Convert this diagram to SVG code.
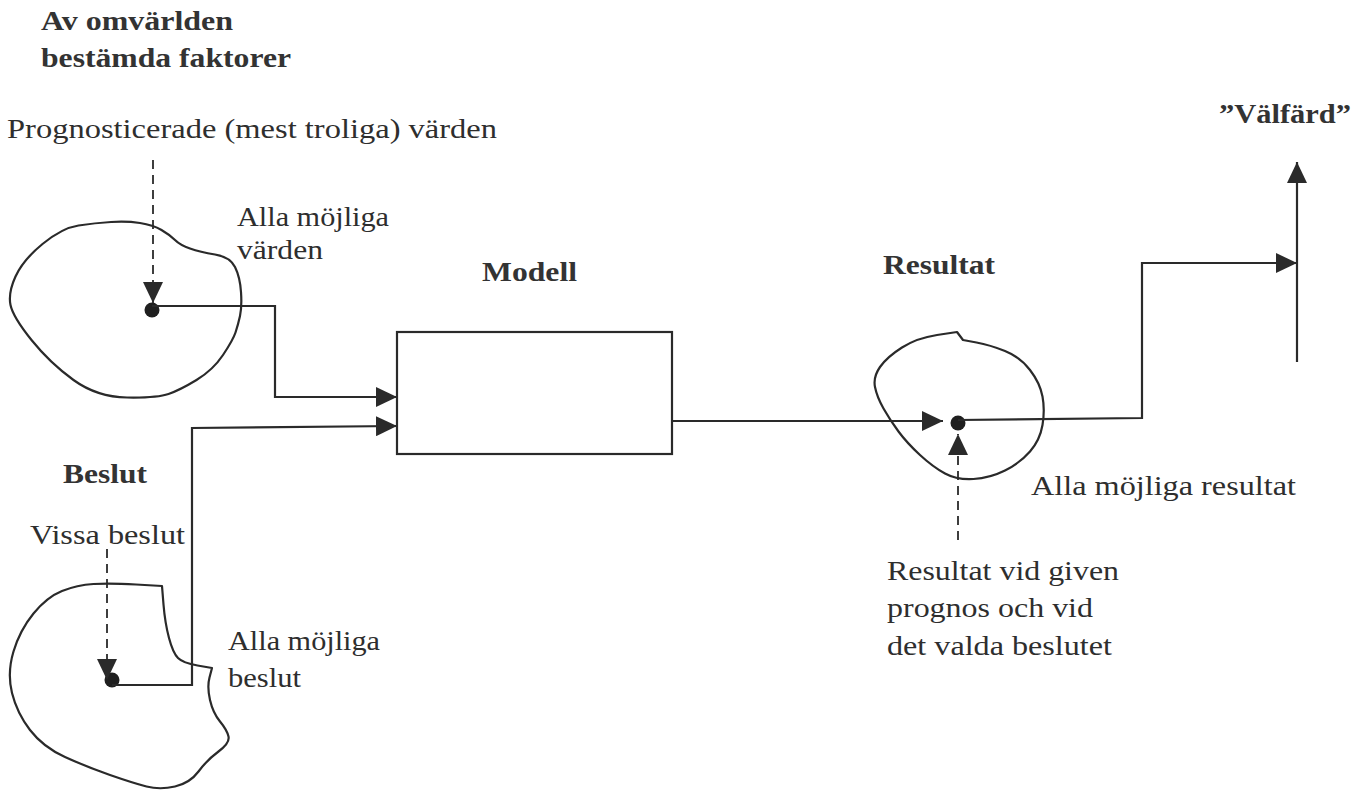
<svg xmlns="http://www.w3.org/2000/svg" width="1360" height="792" viewBox="0 0 1360 792">
<style>
.t{font-family:"Liberation Serif","Times New Roman",serif;font-size:28px;fill:#2e2e2e}
.b{font-family:"Liberation Serif","Times New Roman",serif;font-size:27px;font-weight:bold;fill:#333}
.blob{fill:none;stroke:#2a2a2a;stroke-width:2.2;stroke-linejoin:round}
.ln{fill:none;stroke:#2a2a2a;stroke-width:2.2}
.dash{fill:none;stroke:#2a2a2a;stroke-width:1.8;stroke-dasharray:9 6}
.dot{fill:#1f1f1f}
</style>
<defs>
<marker id="ah" markerUnits="userSpaceOnUse" markerWidth="22" markerHeight="20" refX="21" refY="10" orient="auto">
<path d="M0,0 L21,10 L0,20 Z" fill="#2a2a2a"/>
</marker>
</defs>
<rect width="1360" height="792" fill="#fff"/>

<g id="title">
<text class="b" x="41" y="30" textLength="192" lengthAdjust="spacingAndGlyphs">Av omvärlden</text>
<text class="b" x="41" y="67" textLength="250" lengthAdjust="spacingAndGlyphs">bestämda faktorer</text>
</g>
<g id="prognos-label">
<text class="t" x="7" y="138" textLength="490" lengthAdjust="spacingAndGlyphs">Prognosticerade (mest troliga) värden</text>
</g>

<g id="blob-varden">
<path class="blob" d="M42.5,244 Q62,228 78.5,225.5 Q95,223 111,222 Q127,221 140,223 Q153,225 161.5,230 Q170,235 175,240 Q180,245 190,248.5 Q200,252 215,254.5 Q230,257 235,267 Q240,277 241,292 Q242,307 240,316 Q238,325 235.5,332.5 Q233,340 223,355 Q213,370 196.5,380 Q180,390 168.5,394 Q157,398 127,397.5 Q97,397 73.5,380 Q50,363 31.5,340 Q13,317 10.5,305 Q8,293 15.5,276.5 Q23,260 42.5,244 Z"/>
<circle class="dot" cx="152" cy="310" r="7.5"/>
<text class="t" x="237" y="226" textLength="152" lengthAdjust="spacingAndGlyphs">Alla möjliga</text>
<text class="t" x="237" y="259" textLength="86" lengthAdjust="spacingAndGlyphs">värden</text>
</g>

<g id="beslut">
<text class="b" x="63" y="483" textLength="84" lengthAdjust="spacingAndGlyphs">Beslut</text>
<text class="t" x="30" y="544" textLength="155" lengthAdjust="spacingAndGlyphs">Vissa beslut</text>
<path class="blob" d="M62,591 Q77,585 93.5,584 Q110,583 136,584.5 L162,586 L163.5,604.5 Q165,623 169,638 Q173,653 178,658 Q183,663 197.5,665.5 L212,668 L209.5,677.5 Q207,687 210,700 Q213,713 220,721.5 Q227,730 228.5,736.5 Q230,743 218.5,751.5 Q207,760 198.5,771.5 Q190,783 175,786.5 Q160,790 146.5,786.5 Q133,783 110,775 Q87,767 65,757 Q43,747 30,730 Q17,713 12,693 Q7,673 13.5,651.5 Q20,630 33.5,613.5 Q47,597 62,591 Z"/>
<circle class="dot" cx="112" cy="680" r="7.5"/>
<text class="t" x="228" y="650" textLength="152" lengthAdjust="spacingAndGlyphs">Alla möjliga</text>
<text class="t" x="228" y="687" textLength="73" lengthAdjust="spacingAndGlyphs">beslut</text>
</g>

<g id="modell">
<text class="b" x="482" y="281" textLength="95" lengthAdjust="spacingAndGlyphs">Modell</text>
<rect x="397" y="332" width="275" height="122" fill="none" stroke="#2a2a2a" stroke-width="2.2"/>
</g>

<g id="resultat">
<text class="b" x="883" y="274" textLength="112" lengthAdjust="spacingAndGlyphs">Resultat</text>
<path class="blob" d="M902,347.5 Q917,338 937,335 L957,332 L963,340 L976.5,342.5 Q990,345 1005,351 Q1020,357 1030,370 Q1040,383 1042.5,396.5 Q1045,410 1042.5,425 Q1040,440 1030,451.5 Q1020,463 1005,470.5 Q990,478 973.5,479 Q957,480 945,473.5 Q933,467 920,455 Q907,443 898.5,431.5 Q890,420 883.5,408.5 Q877,397 875,387 Q873,377 880,367 Q887,357 902,347.5 Z"/>
<circle class="dot" cx="958" cy="423" r="7.5"/>
<text class="t" x="1031" y="495" textLength="265" lengthAdjust="spacingAndGlyphs">Alla möjliga resultat</text>
<text class="t" x="887" y="580" textLength="232" lengthAdjust="spacingAndGlyphs">Resultat vid given</text>
<text class="t" x="887" y="617" textLength="206" lengthAdjust="spacingAndGlyphs">prognos och vid</text>
<text class="t" x="887" y="655" textLength="225" lengthAdjust="spacingAndGlyphs">det valda beslutet</text>
</g>

<g id="valfard">
<text class="b" x="1219" y="123" textLength="132" lengthAdjust="spacingAndGlyphs">”Välfärd”</text>
</g>

<g id="connectors">
<path class="dash" d="M153,160 L153,303" marker-end="url(#ah)"/>
<path class="ln" d="M152,306 L275,306 L275,397 L397,397" marker-end="url(#ah)"/>
<path class="dash" d="M107,549 L107,680" marker-end="url(#ah)"/>
<path class="ln" d="M112,685 L192,685 L192,428 L397,426" marker-end="url(#ah)"/>
<path class="ln" d="M672,421 L943,421" marker-end="url(#ah)"/>
<path class="dash" d="M958,540 L958,434" marker-end="url(#ah)"/>
<path class="ln" d="M958,420 L1142,418 L1142,263 L1297,263" marker-end="url(#ah)"/>
<path class="ln" d="M1297,362 L1297,162" marker-end="url(#ah)"/>
</g>
</svg>
